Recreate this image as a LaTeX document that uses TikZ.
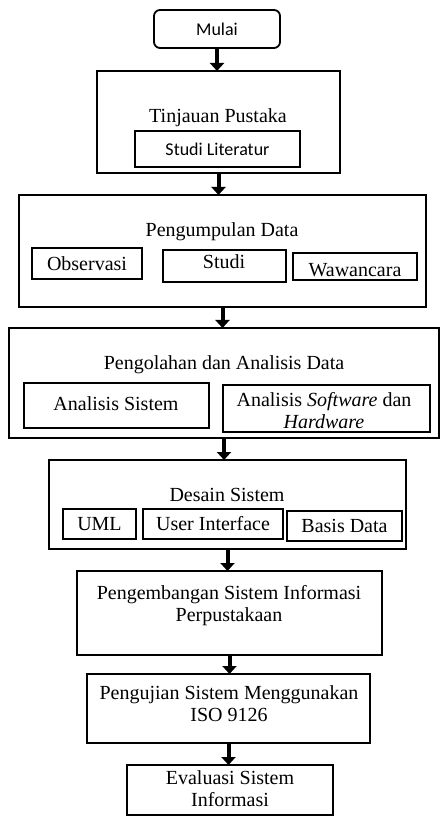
\documentclass[tikz,border=0pt]{standalone}
\usepackage{fontspec}
\setmainfont{Liberation Serif}
\newfontfamily\calibri{Carlito}
\usetikzlibrary{arrows.meta,fit}

\tikzset{
    box/.style={draw, line width=0.9pt, inner sep=0pt, outer sep=0pt},
    startbox/.style={box, rounded corners=3pt},
    title/.style={inner sep=0pt, align=center, font=\fontsize{10}{11}\selectfont},
    sanslabel/.style={inner sep=0pt, font=\calibri\fontsize{9}{11}\selectfont},
    flow/.style={line width=2pt, -{Triangle[length=4pt,width=7pt]}}
}

\begin{document}
\begin{tikzpicture}[x=0.5pt, y=-0.5pt, font=\fontsize{10}{11}\selectfont]
    \useasboundingbox (0,0) rectangle (440,817);

    % Mulai
    \node[startbox, fit={(154,10) (280,48)}] (mulai) {};
    \node[sanslabel] (mulaiT) at (mulai.center) {Mulai};

    % Tinjauan Pustaka
    \node[box, fit={(97,71) (340,173)}] (tinjauan) {};
    \node[title] (tinjauanT) at (218,118) {Tinjauan Pustaka};
    \node[box, fit={(135,131) (300,167)}] (literatur) {};
    \node[sanslabel] (literaturT) at (literatur.center) {Studi Literatur};

    % Pengumpulan Data
    \node[box, fit={(19,195) (426,307)}] (kumpul) {};
    \node[title] (kumpulT) at (222,232) {Pengumpulan Data};
    \node[box, fit={(32,248) (142,279)}] (observasi) {};
    \node[title] (observasiT) at (87,264) {Observasi};
    \node[box, fit={(163,250) (286,282)}] (studi) {};
    \node[title] (studiT) at (224,262) {Studi};
    \node[box, fit={(293,253) (417,280)}] (wawancara) {};
    \node[title] (wawancaraT) at (355,270) {Wawancara};

    % Pengolahan dan Analisis Data
    \node[box, fit={(9,328) (439,438)}] (olah) {};
    \node[title] (olahT) at (224,365) {Pengolahan dan Analisis Data};
    \node[box, fit={(24,383) (209,428)}] (sistem) {};
    \node[title] (sistemT) at (116,404) {Analisis Sistem};
    \node[box, fit={(223,385) (430,432)}] (perangkat) {};
    \node[title] (perangkatT) at (324,411) {Analisis \textit{Software} dan\\ \textit{Hardware}};

    % Desain Sistem
    \node[box, fit={(49,460) (406,549)}] (desain) {};
    \node[title] (desainT) at (227,495) {Desain Sistem};
    \node[box, fit={(63,509) (136,539)}] (uml) {};
    \node[title] (umlT) at (uml.center) {UML};
    \node[box, fit={(143,509) (283,539)}] (ui) {};
    \node[title] (uiT) at (ui.center) {User Interface};
    \node[box, fit={(287,511) (402,541)}] (basisdata) {};
    \node[title] (basisdataT) at (basisdata.center) {Basis Data};

    % Pengembangan, Pengujian, Evaluasi
    \node[box, fit={(77,571) (382,655)}] (kembang) {};
    \node[title] (kembangT) at (229,606) {Pengembangan Sistem Informasi\\ Perpustakaan};
    \node[box, fit={(87,674) (370,743)}] (uji) {};
    \node[title] (ujiT) at (229,704) {Pengujian Sistem Menggunakan\\ ISO 9126};
    \node[box, fit={(127,765) (333,815)}] (evaluasi) {};
    \node[title] (evaluasiT) at (230,789) {Evaluasi Sistem\\ Informasi};

    % Arrows between the stages
    \draw[flow] (mulai.south) -- (mulai.south |- tinjauan.north);
    \draw[flow] (tinjauan.south) -- (tinjauan.south |- kumpul.north);
    \draw[flow] (kumpul.south) -- (kumpul.south |- olah.north);
    \draw[flow] (olah.south) -- (olah.south |- desain.north);
    \draw[flow] (desain.south) -- (desain.south |- kembang.north);
    \draw[flow] (kembang.south) -- (kembang.south |- uji.north);
    \draw[flow] (uji.south) -- (uji.south |- evaluasi.north);

\end{tikzpicture}
\end{document}
